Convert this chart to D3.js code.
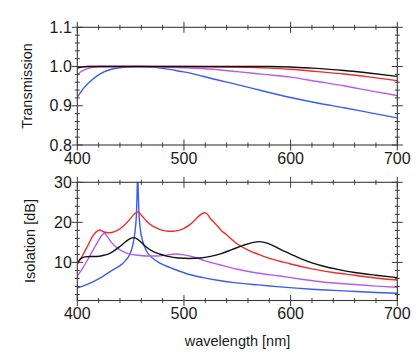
<!DOCTYPE html>
<html><head><meta charset="utf-8">
<script src="https://cdn.jsdelivr.net/npm/d3@7"></script>
<style>
html,body{margin:0;padding:0;background:#fff;}
svg{display:block;font-family:"Liberation Sans",Arial,Helvetica,sans-serif;}
</style></head>
<body>
<svg id="chart" width="416" height="354"></svg>
<script>
// ---- data ----
const xTicks = [400, 500, 600, 700];
const transTicks = [0.8, 0.9, 1.0, 1.1];
const isoTicks = [10, 20, 30];

const transBlack = [[400,0.996],[405,0.999],[410,1.0],[500,1.0],[580,1.0],[600,0.999],[620,0.996],[650,0.990],[675,0.983],[700,0.975]];
const transRed = [[400,0.997],[405,0.999],[410,1.0],[500,1.0],[540,0.999],[560,0.998],[580,0.996],[600,0.993],[625,0.987],[650,0.981],[675,0.973],[700,0.964]];
const transPurple = [[400,0.979],[403,0.986],[406,0.991],[410,0.995],[415,0.998],[420,1.0],[460,1.0],[480,0.999],[500,0.997],[527,0.993],[550,0.987],[575,0.980],[600,0.973],[625,0.962],[650,0.951],[675,0.938],[700,0.926]];
const transBlue = [[400,0.922],[406,0.945],[412,0.962],[418,0.975],[424,0.985],[432,0.993],[440,0.997],[450,0.9995],[458,1.0],[468,0.999],[478,0.996],[488,0.992],[496,0.988],[505,0.984],[515,0.977],[525,0.970],[550,0.954],[575,0.937],[600,0.921],[625,0.907],[650,0.895],[675,0.882],[700,0.869]];

const isoRed = [[400,9.5],[405,11.8],[410,14.3],[415,16.8],[418,17.7],[421,18.1],[425,17.6],[430,17.4],[435,17.7],[440,18.4],[445,19.5],[450,21.0],[454,22.2],[457,22.6],[460,21.8],[465,20.3],[470,19.2],[475,18.5],[480,18.0],[485,17.8],[490,17.8],[495,18.0],[500,18.5],[505,19.3],[510,20.5],[515,21.8],[519,22.4],[522,22.0],[525,20.9],[530,19.5],[535,18.0],[540,16.9],[545,15.7],[550,14.6],[560,13.1],[570,12.0],[580,11.0],[590,10.3],[600,9.6],[620,8.4],[640,7.5],[660,6.8],[680,6.1],[700,5.6]];
const isoBlack = [[400,9.8],[403,10.9],[407,11.4],[412,11.5],[418,11.5],[425,11.8],[430,12.2],[435,13.0],[440,14.0],[445,15.1],[450,16.0],[453,16.2],[456,15.9],[460,15.0],[465,13.8],[470,12.9],[477,12.1],[485,11.5],[495,11.1],[505,11.0],[515,11.1],[525,11.5],[535,12.2],[545,13.2],[555,14.2],[565,15.0],[571,15.2],[578,14.8],[585,14.0],[590,13.3],[600,12.1],[610,10.9],[620,9.9],[630,9.1],[645,8.2],[660,7.5],[680,6.8],[700,6.2]];
const isoPurple = [[400,6.6],[405,8.6],[410,10.8],[415,13.2],[420,15.5],[423,16.8],[425.5,17.3],[428,16.5],[432,15.0],[437,13.7],[443,12.7],[450,12.0],[457,11.8],[465,11.6],[475,11.6],[485,11.9],[492,12.1],[500,11.9],[510,11.3],[520,10.4],[535,9.3],[550,8.3],[570,7.3],[590,6.6],[610,5.8],[630,5.1],[660,4.5],[680,4.1],[700,3.8]];
const isoBlue = [[400,3.6],[410,4.6],[420,5.9],[425,6.7],[430,7.6],[435,8.4],[440,9.2],[445,10.4],[449,11.9],[452,14.3],[454,17.5],[455.5,22.5],[456.2,29],[456.6,36],[457,29],[457.8,22.5],[459,18.5],[461,15.6],[465,12.8],[470,11.2],[477,9.9],[487,8.7],[496,7.8],[505,7.0],[518,6.2],[530,5.6],[549,4.9],[570,4.4],[590,3.9],[620,3.3],[650,2.9],[680,2.5],[700,2.3]];

// ---- layout ----
const svg = d3.select("#chart");
const L = 77.3, R = 397.3;
const x = d3.scaleLinear().domain([400, 700]).range([L, R]);
const yT = d3.scaleLinear().domain([0.8, 1.1]).range([145, 27.3]);
const yI = d3.scaleLinear().domain([0.5, 30]).range([300.5, 182.3]);

const axisColor = "#3a3a3a";
const textColor = "#1a1a1a";
const colors = {black:"#111111", red:"#f22a2a", purple:"#b45cf2", blue:"#3a5cf5"};

function panel(y, majorY, minorY, yFmt, clipId, series) {
  const [y0, y1] = y.range(); // bottom, top
  const g = svg.append("g");
  svg.append("clipPath").attr("id", clipId).append("rect")
    .attr("x", L).attr("y", y1).attr("width", R - L).attr("height", y0 - y1);

  // curves
  const line = d3.line().x(d => x(d[0])).y(d => y(d[1])).curve(d3.curveMonotoneX);
  const cg = g.append("g").attr("clip-path", `url(#${clipId})`);
  series.forEach(s => {
    cg.append("path").datum(s.data).attr("d", line)
      .attr("fill", "none").attr("stroke", s.color).attr("stroke-width", 1.4);
  });

  // frame
  g.append("rect").attr("x", L).attr("y", y1).attr("width", R - L).attr("height", y0 - y1)
    .attr("fill", "none").attr("stroke", axisColor).attr("stroke-width", 1.1);

  const tk = g.append("g").attr("stroke", axisColor).attr("stroke-width", 1);
  const xMinor = d3.range(400, 701, 20).filter(v => !xTicks.includes(v));
  [y0, y1].forEach(yy => {
    xTicks.forEach(v => tk.append("line").attr("x1", x(v)).attr("x2", x(v)).attr("y1", yy - 5.5).attr("y2", yy + 5.5));
    xMinor.forEach(v => tk.append("line").attr("x1", x(v)).attr("x2", x(v)).attr("y1", yy - 2.5).attr("y2", yy + 2.5));
  });
  [L, R].forEach(xx => {
    majorY.forEach(v => tk.append("line").attr("x1", xx - 5.5).attr("x2", xx + 5.5).attr("y1", y(v)).attr("y2", y(v)));
    minorY.forEach(v => tk.append("line").attr("x1", xx - 2.5).attr("x2", xx + 2.5).attr("y1", y(v)).attr("y2", y(v)));
  });

  // labels
  xTicks.forEach(v => g.append("text").attr("x", x(v)).attr("y", y0 + 18.5)
    .attr("text-anchor", "middle").attr("font-size", 16).attr("fill", textColor).text(v));
  majorY.forEach(v => g.append("text").attr("x", L - 5.5).attr("y", y(v)).attr("dy", "0.35em")
    .attr("text-anchor", "end").attr("font-size", 16).attr("fill", textColor).text(yFmt(v)));
}

const transMinor = d3.range(0.8, 1.1001, 0.02).map(v => +v.toFixed(2)).filter(v => !transTicks.some(t => Math.abs(t - v) < 1e-6));
panel(yT, transTicks, transMinor, d3.format(".1f"), "clipT", [
  {data: transBlue, color: colors.blue},
  {data: transPurple, color: colors.purple},
  {data: transRed, color: colors.red},
  {data: transBlack, color: colors.black}
]);
const isoMinor = d3.range(2, 30, 2).filter(v => !isoTicks.includes(v));
panel(yI, isoTicks, isoMinor, d3.format("d"), "clipI", [
  {data: isoBlue, color: colors.blue},
  {data: isoPurple, color: colors.purple},
  {data: isoRed, color: colors.red},
  {data: isoBlack, color: colors.black}
]);

// axis titles
svg.append("text").attr("transform", "translate(32,86) rotate(-90)")
  .attr("text-anchor", "middle").attr("font-size", 14.5).attr("fill", textColor).text("Transmission");
svg.append("text").attr("transform", "translate(34.5,241) rotate(-90)")
  .attr("text-anchor", "middle").attr("font-size", 14.5).attr("fill", textColor).text("Isolation [dB]");
svg.append("text").attr("x", 237.5).attr("y", 346)
  .attr("text-anchor", "middle").attr("font-size", 14.5).attr("fill", textColor).text("wavelength [nm]");
</script>
</body></html>
